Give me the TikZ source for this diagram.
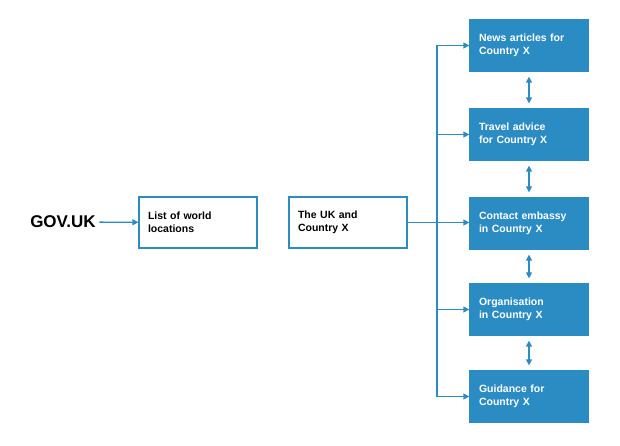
\documentclass[tikz,border=0pt]{standalone}
\usepackage{fontspec}
\setmainfont{Liberation Sans}
\usetikzlibrary{arrows.meta,positioning}
\definecolor{govblue}{HTML}{2B8CC4}
\begin{document}
\begin{tikzpicture}[x=1pt,y=-1pt,
      wbox/.style={
         rectangle,
         draw=govblue,
         line width=1.3pt,
         fill=white,
         text width=100pt,
         minimum width=118pt,
         minimum height=51pt,
         align=left,
         inner sep=0pt,
         font=\bfseries\fontsize{10.5}{13}\selectfont},
      bbox/.style={wbox,fill=govblue,text=white},
      myarrow/.style={-{Triangle[length=6pt,width=6pt]},draw=govblue,line width=1.3pt},
      darrow/.style={{Triangle[length=6pt,width=6pt]}-{Triangle[length=6pt,width=6pt]},draw=govblue,line width=1.3pt}
      ]
      \useasboundingbox (0,0) rectangle (620,446);
      \node[font=\bfseries\fontsize{17}{20}\selectfont] (gov) at (63,222) {GOV.UK};
      \node[wbox] (w1) at (198,222.5) {List of world\\locations};
      \node[wbox] (w2) at (348,222.5) {The UK and\\Country X};
      \node[bbox] (b1) at (529,45.5) {News articles for\\Country X};
      \node[bbox] (b2) at (529,134.5) {Travel advice\\for Country X};
      \node[bbox] (b3) at (529,223.5) {Contact embassy\\in Country X};
      \node[bbox] (b4) at (529,309.5) {Organisation\\in Country X};
      \node[bbox] (b5) at (529,396.5) {Guidance for\\Country X};
      \coordinate (top) at (437,45.5);
      \coordinate (bot) at (437,396.5);

      \draw[myarrow] (gov) -- (w1);
      \draw[myarrow] (w2) -- (w2 -| b3.west);
      \draw[govblue,line width=1.3pt] (top) -- (bot);
      \foreach \b in {b1,b2,b4,b5}
         \draw[myarrow] (top |- \b) -- (\b);
      \foreach \i/\j in {b1/b2,b2/b3,b3/b4,b4/b5}
         \draw[darrow,shorten <=5pt,shorten >=5pt] (\i) -- (\j);
\end{tikzpicture}
\end{document}
